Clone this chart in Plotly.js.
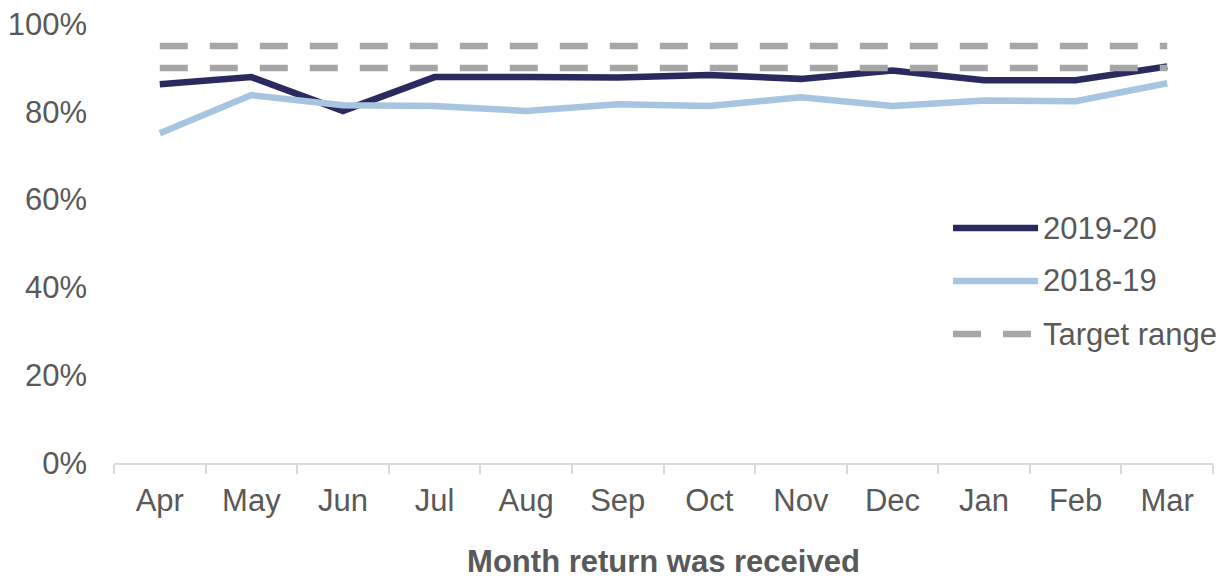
<!DOCTYPE html>
<html>
<head>
<meta charset="utf-8">
<script src="https://cdn.plot.ly/plotly-3.0.1.min.js"></script>
<style>
  html, body { margin: 0; padding: 0; background: #fff; }
  #chart { width: 1232px; height: 579px; }
</style>
</head>
<body>
<div id="chart"></div>
<script>
const months = ["Apr", "May", "Jun", "Jul", "Aug", "Sep", "Oct", "Nov", "Dec", "Jan", "Feb", "Mar"];
const y2019 = [86.3, 87.9, 80.2, 87.9, 87.9, 87.8, 88.4, 87.5, 89.4, 87.2, 87.2, 90.3];
const y2018 = [75.1, 83.8, 81.5, 81.3, 80.2, 81.7, 81.3, 83.3, 81.3, 82.6, 82.4, 86.5];
const targetHigh = [95, 95, 95, 95, 95, 95, 95, 95, 95, 95, 95, 95];
const targetLow = [90, 90, 90, 90, 90, 90, 90, 90, 90, 90, 90, 90];
const yTicks = [0, 20, 40, 60, 80, 100];
const yTickText = ["0%", "20%", "40%", "60%", "80%", "100%"];

const navy = "#2b2a5f";
const lightBlue = "#a7c5e1";
const grey = "#a6a6a6";
const textCol = "#595959";
const font = "Liberation Sans, Arial, sans-serif";
const fs = 31;
const dash = "28px,22px";

const traces = [
  { x: months, y: y2019, name: "2019-20", type: "scatter", mode: "lines",
    line: { color: navy, width: 6.5 } },
  { x: months, y: y2018, name: "2018-19", type: "scatter", mode: "lines",
    line: { color: lightBlue, width: 6.5 } },
  { x: months, y: targetHigh, name: "Target range", type: "scatter", mode: "lines",
    line: { color: grey, width: 6.5, dash: dash } },
  { x: months, y: targetLow, name: "Target range", type: "scatter", mode: "lines",
    line: { color: grey, width: 6.5, dash: dash } },
];

// legend drawn by hand so the sample lines are as long as in the original
const legendItems = [
  { label: "2019-20", color: navy, dash: "solid", y: 0.5353 },
  { label: "2018-19", color: lightBlue, dash: "solid", y: 0.4146 },
  { label: "Target range", color: grey, dash: dash, y: 0.2938 },
];
const shapes = legendItems.map((it) => ({
  type: "line", xref: "paper", yref: "paper",
  x0: 0.7634, x1: 0.8408, y0: it.y, y1: it.y,
  line: { color: it.color, width: 6.5, dash: it.dash },
}));
const annotations = legendItems.map((it) => ({
  xref: "paper", yref: "paper", x: 0.8435, y: it.y,
  xanchor: "left", yanchor: "middle", showarrow: false,
  text: it.label, font: { family: font, size: fs, color: textCol },
}));

const layout = {
  width: 1232,
  height: 579,
  margin: { l: 114, r: 19, t: 24, b: 116 },
  paper_bgcolor: "#fff",
  plot_bgcolor: "#fff",
  showlegend: false,
  font: { family: font, size: fs, color: textCol },
  xaxis: {
    type: "category",
    range: [-0.5, 11.5],
    showgrid: false,
    zeroline: false,
    showline: true,
    linecolor: "#d9d9d9",
    linewidth: 2,
    ticks: "outside",
    tickson: "boundaries",
    ticklen: 9,
    tickcolor: "#d9d9d9",
    tickwidth: 2,
    ticklabelstandoff: 9,
    tickfont: { family: font, size: fs, color: textCol },
    title: { text: "<b>Month return was received</b>", standoff: 44,
      font: { family: font, size: fs, color: textCol } },
    automargin: false,
  },
  yaxis: {
    range: [0, 100],
    tickvals: yTicks,
    ticktext: yTickText,
    showgrid: false,
    zeroline: false,
    showline: false,
    ticks: "",
    ticklabelstandoff: 26,
    tickfont: { family: font, size: fs, color: textCol },
    automargin: false,
  },
  shapes: shapes,
  annotations: annotations,
};

Plotly.newPlot("chart", traces, layout, { displayModeBar: false, staticPlot: true });
</script>
</body>
</html>
